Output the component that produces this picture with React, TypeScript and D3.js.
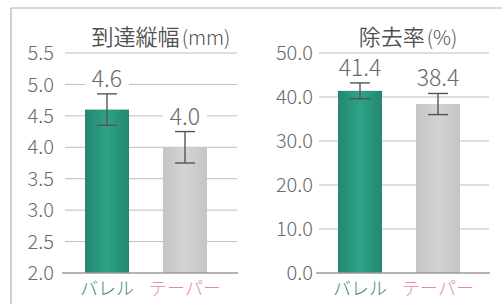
import React from "react";
import * as d3 from "d3";

const categories = ["バレル", "テーパー"];
const widthValues = [4.6, 4.0];
const widthErrors = [0.25, 0.25];
const widthTicks = [2.0, 2.5, 3.0, 3.5, 4.0, 4.5, 5.0, 5.5];
const removalValues = [41.4, 38.4];
const removalErrors = [1.8, 2.4];
const removalTicks = [0, 10, 20, 30, 40, 50];

const W = 502;
const H = 304;
const FONT = "'Noto Sans CJK JP', 'Noto Sans', sans-serif";
const TEXT = "#6a6a6a";
const GRID = "#bdbdbd";
const catColors = ["#2f8f76", "#e38aab"];

interface PanelProps {
  title: string;
  unit: string;
  titleX: number;
  values: number[];
  errors: number[];
  ticks: number[];
  domain: [number, number];
  xRange: [number, number];
  gridRange: [number, number];
  labelX: number;
}

const Panel: React.FC<PanelProps> = ({ title, unit, titleX, values, errors, ticks, domain, xRange, gridRange, labelX }) => {
  const y = d3.scaleLinear().domain(domain).range([273, 53]);
  const x = d3.scaleBand<string>().domain(categories).range(xRange).paddingInner(0.436).paddingOuter(0.5);
  const bw = x.bandwidth();
  const fmt = d3.format(".1f");

  return (
    <g>
      <text x={titleX} y={45} textAnchor="middle" fontFamily={FONT} fontSize={22} fontWeight={350} fill="#505050">
        {title}
        <tspan fontSize={20} fontWeight={300} dx={2}>{unit}</tspan>
      </text>
      {ticks.map((t, i) => (
        <g key={t}>
          {i > 0 && (
            <line x1={gridRange[0]} x2={gridRange[1]} y1={y(t)} y2={y(t)} stroke={GRID} strokeWidth={1} />
          )}
          <text x={labelX} y={y(t)} dy="0.36em" textAnchor="end" fontFamily={FONT} fontSize={20} fontWeight={300} fill={TEXT}>
            {fmt(t)}
          </text>
        </g>
      ))}
      {categories.map((c, i) => {
        const x0 = x(c)!;
        const cx = x0 + bw / 2;
        const top = y(values[i] + errors[i]);
        const bot = y(values[i] - errors[i]);
        const label = fmt(values[i]);
        const lw = label.length * 12 + 8;
        return (
          <g key={c}>
            <rect x={x0} y={y(values[i])} width={bw} height={y(domain[0]) - y(values[i])}
              fill={i === 0 ? "url(#greenGrad)" : "url(#greyGrad)"} />
            <line x1={cx} x2={cx} y1={top} y2={bot} stroke="#555" strokeWidth={1.4} />
            <line x1={cx - 10} x2={cx + 10} y1={top} y2={top} stroke="#555" strokeWidth={1.4} />
            <line x1={cx - 10} x2={cx + 10} y1={bot} y2={bot} stroke="#555" strokeWidth={1.4} />
            <rect x={cx - lw / 2} y={top - 28} width={lw} height={23} fill="#fff" />
            <text x={cx} y={top - 7} textAnchor="middle" fontFamily={FONT} fontSize={23} fontWeight={300} fill={TEXT}>
              {label}
            </text>
            <text x={cx} y={295} textAnchor="middle" fontFamily={FONT} fontSize={18} fontWeight={300} fill={catColors[i]}>
              {c}
            </text>
          </g>
        );
      })}
      <line x1={gridRange[0] - 3} x2={gridRange[1] + 1} y1={y(domain[0])} y2={y(domain[0])} stroke="#9a9a9a" strokeWidth={1.5} />
    </g>
  );
};

export default function App() {
  return (
    <div style={{ position: "fixed", left: 0, top: 0 }}>
      <svg width={W} height={H} style={{ display: "block", background: "#fff" }}>
        <defs>
          <linearGradient id="greenGrad" x1="0" x2="1" y1="0" y2="0">
            <stop offset="0" stopColor="#23876f" />
            <stop offset="0.5" stopColor="#2ea287" />
            <stop offset="1" stopColor="#23876f" />
          </linearGradient>
          <linearGradient id="greyGrad" x1="0" x2="1" y1="0" y2="0">
            <stop offset="0" stopColor="#c4c5c4" />
            <stop offset="0.5" stopColor="#d2d3d2" />
            <stop offset="1" stopColor="#c4c5c4" />
          </linearGradient>
        </defs>
        <line x1={11} x2={W} y1={8} y2={8} stroke="#b3b3b3" strokeWidth={1.2} />
        <line x1={11} x2={11} y1={8} y2={H} stroke="#b3b3b3" strokeWidth={1.2} />
        <Panel title="到達縦幅" unit="(mm)" titleX={161} values={widthValues} errors={widthErrors}
          ticks={widthTicks} domain={[2, 5.5]} xRange={[46, 246]} gridRange={[65, 237]} labelX={54} />
        <Panel title="除去率" unit="(%)" titleX={408} values={removalValues} errors={removalErrors}
          ticks={removalTicks} domain={[0, 50]} xRange={[299, 499]} gridRange={[319, 489]} labelX={313} />
      </svg>
    </div>
  );
}
